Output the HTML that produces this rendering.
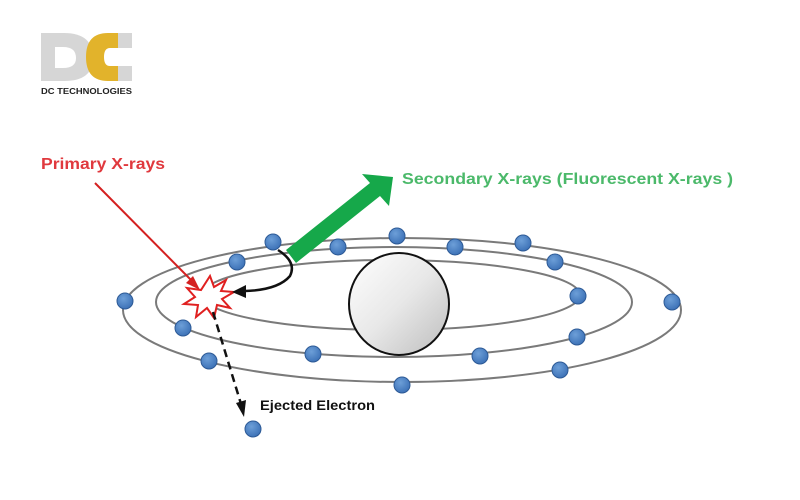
<!DOCTYPE html>
<html><head><meta charset="utf-8"><style>
html,body{margin:0;padding:0;background:#fff;}
svg{display:block;}
text{font-family:"Liberation Sans",sans-serif;font-weight:bold;}
</style></head><body>
<svg width="800" height="500" viewBox="0 0 800 500" xmlns="http://www.w3.org/2000/svg">
<defs>
<radialGradient id="e" cx="0.4" cy="0.35" r="0.7"><stop offset="0" stop-color="#6d9fd8"/><stop offset="1" stop-color="#3a6fb5"/></radialGradient>
<linearGradient id="n" x1="0" y1="0" x2="1" y2="1"><stop offset="0" stop-color="#ffffff"/><stop offset="0.5" stop-color="#e8e8e8"/><stop offset="1" stop-color="#bdbdbd"/></linearGradient>
</defs>
<!-- logo -->
<path d="M41 33 H64 Q93 33 93 58 Q93 81 64 81 H41 Z" fill="#d6d6d6"/>
<path d="M55 47 H63 Q76 47 76 58 Q76 68 63 68 H55 Z" fill="#fff"/>
<path d="M130 33 H108 Q86 33 86 57 Q86 81 108 81 H130 V66 H110 Q104 66 104 57 Q104 48 110 48 H130 Z" fill="#e2b32b"/>
<path d="M118 33 H132 V48 H118 Z M118 66 H132 V81 H118 Z" fill="#d6d6d6"/>
<text x="41" y="94" font-size="8.5" fill="#222" textLength="91" lengthAdjust="spacingAndGlyphs">DC TECHNOLOGIES</text>
<!-- orbits -->
<g fill="none" stroke="#7a7a7a" stroke-width="2">
<ellipse cx="402" cy="310" rx="279" ry="72"/>
<ellipse cx="394" cy="302" rx="238" ry="55"/>
<ellipse cx="391" cy="295" rx="189" ry="35"/>
</g>
<ellipse cx="399" cy="304" rx="50" ry="51" fill="url(#n)" stroke="#111" stroke-width="2"/>
<!-- electrons -->
<g fill="url(#e)" stroke="#2d5a96" stroke-width="1">
<circle cx="125" cy="301" r="8"/><circle cx="273" cy="242" r="8"/><circle cx="237" cy="262" r="8"/>
<circle cx="338" cy="247" r="8"/><circle cx="397" cy="236" r="8"/><circle cx="455" cy="247" r="8"/>
<circle cx="523" cy="243" r="8"/><circle cx="555" cy="262" r="8"/><circle cx="578" cy="296" r="8"/>
<circle cx="672" cy="302" r="8"/><circle cx="183" cy="328" r="8"/><circle cx="577" cy="337" r="8"/>
<circle cx="209" cy="361" r="8"/><circle cx="313" cy="354" r="8"/><circle cx="480" cy="356" r="8"/>
<circle cx="560" cy="370" r="8"/><circle cx="402" cy="385" r="8"/><circle cx="253" cy="429" r="8"/>
</g>
<!-- green arrow -->
<polygon points="286,250 370,183 362,174 393,177 389,206 380,196 296,263" fill="#16a84a"/>
<!-- red arrow -->
<line x1="95" y1="183" x2="194" y2="283" stroke="#d42020" stroke-width="2"/>
<polygon points="200,290 186,283 193,276" fill="#d42020"/>
<!-- star -->
<polygon points="210,276 214,287 226,280 221,291 234,292 222,299 230,308 217,305 214,318 207,308 196,317 198,305 184,304 195,297 187,288 201,290" fill="#fff" stroke="#e02020" stroke-width="2"/>
<!-- black curved arrow -->
<path d="M278 250 Q297 262 290 276 Q278 290 245 291" fill="none" stroke="#111" stroke-width="2.5"/>
<polygon points="232,292 246,285 246,298" fill="#111"/>
<!-- dashed -->
<line x1="213" y1="312" x2="241" y2="404" stroke="#111" stroke-width="2.5" stroke-dasharray="8,5"/>
<polygon points="244,417 236,403 246,400" fill="#111"/>
<!-- labels -->
<text x="41" y="169" font-size="16" fill="#e0393e" textLength="124" lengthAdjust="spacingAndGlyphs">Primary X-rays</text>
<text x="402" y="184" font-size="16" fill="#4bb96a" textLength="331" lengthAdjust="spacingAndGlyphs">Secondary X-rays (Fluorescent X-rays )</text>
<text x="260" y="410" font-size="14" fill="#111" textLength="115" lengthAdjust="spacingAndGlyphs">Ejected Electron</text>
</svg>
</body></html>
